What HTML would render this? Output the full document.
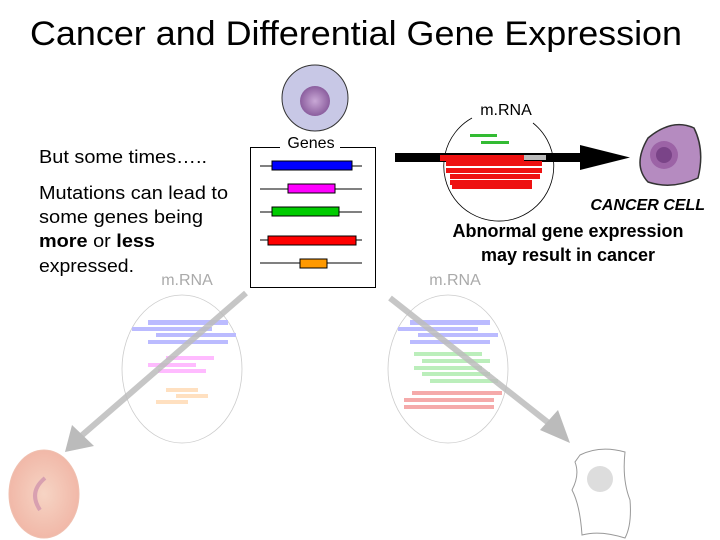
<!DOCTYPE html>
<html><head><meta charset="utf-8"><style>
html,body{margin:0;padding:0;background:#fff;}
svg{display:block;font-family:"Liberation Sans",Arial,sans-serif;}
</style></head><body>
<svg width="720" height="540" viewBox="0 0 720 540" xmlns="http://www.w3.org/2000/svg">
<defs>
<radialGradient id="rbc" cx="50%" cy="50%" r="50%"><stop offset="0" stop-color="#f6d4c4"/><stop offset="1" stop-color="#f1b8a8"/></radialGradient>
<radialGradient id="nuc" cx="50%" cy="50%" r="50%"><stop offset="0" stop-color="#c9a8d6"/><stop offset="1" stop-color="#8b5e9e"/></radialGradient>
</defs>
<text x="30" y="45" font-size="34" textLength="652" lengthAdjust="spacingAndGlyphs">Cancer and Differential Gene Expression</text>

<circle cx="315" cy="98" r="33" fill="#c8c8e6" stroke="#333" stroke-width="1"/>
<circle cx="315" cy="101" r="15" fill="url(#nuc)"/>

<text x="39" y="163" font-size="18" textLength="168" lengthAdjust="spacingAndGlyphs">But some times…..</text>
<text x="39" y="199" font-size="18" textLength="189" lengthAdjust="spacingAndGlyphs">Mutations can lead to</text>
<text x="39" y="223" font-size="18" textLength="164" lengthAdjust="spacingAndGlyphs">some genes being</text>
<text x="39" y="247" font-size="18" textLength="116" lengthAdjust="spacingAndGlyphs"><tspan font-weight="bold">more</tspan> or <tspan font-weight="bold">less</tspan></text>
<text x="39" y="272" font-size="18" textLength="95" lengthAdjust="spacingAndGlyphs">expressed.</text>

<rect x="250.5" y="147.5" width="125" height="140" fill="#fff" stroke="#000"/>
<rect x="280" y="136" width="60" height="14" fill="#fff"/>
<text x="311" y="148" font-size="16" text-anchor="middle">Genes</text>
<g stroke="#000" stroke-width="1">
<line x1="260" y1="166" x2="362" y2="166"/><rect x="272" y="161" width="80" height="9" fill="#0000ff"/>
<line x1="260" y1="189" x2="362" y2="189"/><rect x="288" y="184" width="47" height="9" fill="#ff00ff"/>
<line x1="260" y1="212" x2="362" y2="212"/><rect x="272" y="207" width="67" height="9" fill="#00cc00"/>
<line x1="260" y1="240" x2="362" y2="240"/><rect x="268" y="236" width="88" height="9" fill="#ff0000"/>
<line x1="260" y1="263" x2="362" y2="263"/><rect x="300" y="259" width="27" height="9" fill="#ff9900"/>
</g>

<path d="M472 118 A55 55 0 1 0 533 123" fill="none" stroke="#000" stroke-width="0.8"/>
<text x="506" y="115" font-size="16" text-anchor="middle">m.RNA</text>
<rect x="470" y="134" width="27" height="3" fill="#33bb33"/>
<rect x="481" y="141" width="28" height="3" fill="#33bb33"/>
<rect x="395" y="153" width="190" height="9" fill="#000"/>
<polygon points="580,145 630,157.5 580,170" fill="#000"/>
<rect x="524" y="155" width="22" height="5" fill="#bbb"/>
<rect x="440" y="155" width="84" height="6" fill="#ee1111"/>
<rect x="446" y="161" width="96" height="5" fill="#ee1111"/>
<rect x="446" y="168" width="96" height="5" fill="#ee1111"/>
<rect x="450" y="174" width="90" height="5" fill="#ee1111"/>
<rect x="450" y="180" width="82" height="5" fill="#ee1111"/>
<rect x="452" y="185" width="80" height="4" fill="#ee1111"/>

<path d="M648 138 Q672 118 694 128 Q705 150 698 178 Q672 190 648 182 Q632 165 648 138Z" fill="#b58bc0" stroke="#333" stroke-width="1.5"/>
<circle cx="664" cy="155" r="14" fill="#9c63a6"/>
<circle cx="664" cy="155" r="8" fill="#7a4488"/>
<text x="705" y="210" font-size="16" font-style="italic" font-weight="bold" text-anchor="end">CANCER CELL</text>
<text x="568" y="237" font-size="18" font-weight="bold" text-anchor="middle">Abnormal gene expression</text>
<text x="568" y="261" font-size="18" font-weight="bold" text-anchor="middle">may result in cancer</text>

<ellipse cx="182" cy="369" rx="60" ry="74" fill="none" stroke="#ccc" stroke-width="0.8"/>
<rect x="150" y="265" width="60" height="24" fill="#fff"/>
<text x="187" y="285" font-size="16" fill="#aaa" text-anchor="middle">m.RNA</text>
<rect x="148" y="320" width="80" height="5" fill="#bbbbff"/>
<rect x="132" y="327" width="80" height="4" fill="#bbbbff"/>
<rect x="156" y="333" width="80" height="4" fill="#bbbbff"/>
<rect x="148" y="340" width="80" height="4" fill="#bbbbff"/>
<rect x="166" y="356" width="48" height="4" fill="#ffbbff"/>
<rect x="148" y="363" width="48" height="4" fill="#ffbbff"/>
<rect x="158" y="369" width="48" height="4" fill="#ffbbff"/>
<rect x="166" y="388" width="32" height="4" fill="#ffe0c0"/>
<rect x="176" y="394" width="32" height="4" fill="#ffe0c0"/>
<rect x="156" y="400" width="32" height="4" fill="#ffe0c0"/>
<line x1="246" y1="293" x2="80" y2="437" stroke="#bdbdbd" stroke-width="6" opacity="0.85"/>
<polygon points="65,452 72,425 94,446" fill="#bbb"/>

<ellipse cx="448" cy="369" rx="60" ry="74" fill="none" stroke="#ccc" stroke-width="0.8"/>
<rect x="420" y="265" width="60" height="24" fill="#fff"/>
<text x="455" y="285" font-size="16" fill="#aaa" text-anchor="middle">m.RNA</text>
<rect x="410" y="320" width="80" height="5" fill="#bbbbff"/>
<rect x="398" y="327" width="80" height="4" fill="#bbbbff"/>
<rect x="418" y="333" width="80" height="4" fill="#bbbbff"/>
<rect x="410" y="340" width="80" height="4" fill="#bbbbff"/>
<rect x="414" y="352" width="68" height="4" fill="#bbeebb"/>
<rect x="422" y="359" width="68" height="4" fill="#bbeebb"/>
<rect x="414" y="366" width="68" height="4" fill="#bbeebb"/>
<rect x="422" y="372" width="68" height="4" fill="#bbeebb"/>
<rect x="430" y="379" width="68" height="4" fill="#bbeebb"/>
<rect x="412" y="391" width="90" height="4" fill="#f5aaaa"/>
<rect x="404" y="398" width="90" height="4" fill="#f5aaaa"/>
<rect x="404" y="405" width="90" height="4" fill="#f5aaaa"/>
<line x1="390" y1="298" x2="555" y2="428" stroke="#bdbdbd" stroke-width="6" opacity="0.85"/>
<polygon points="570,443 540,430 558,410" fill="#bbb"/>

<ellipse cx="44" cy="494" rx="35" ry="44" fill="url(#rbc)" stroke="#f0c0b0"/>
<path d="M45 478 Q28 492 40 510" fill="none" stroke="#d8a0b0" stroke-width="4"/>

<path d="M580 455 Q600 445 625 452 Q622 480 630 500 Q632 525 625 538 Q600 530 582 535 Q580 505 572 490 Q580 475 575 462Z" fill="#fff" stroke="#999" stroke-width="1"/>
<circle cx="600" cy="479" r="13" fill="#ddd"/>
</svg>
</body></html>
